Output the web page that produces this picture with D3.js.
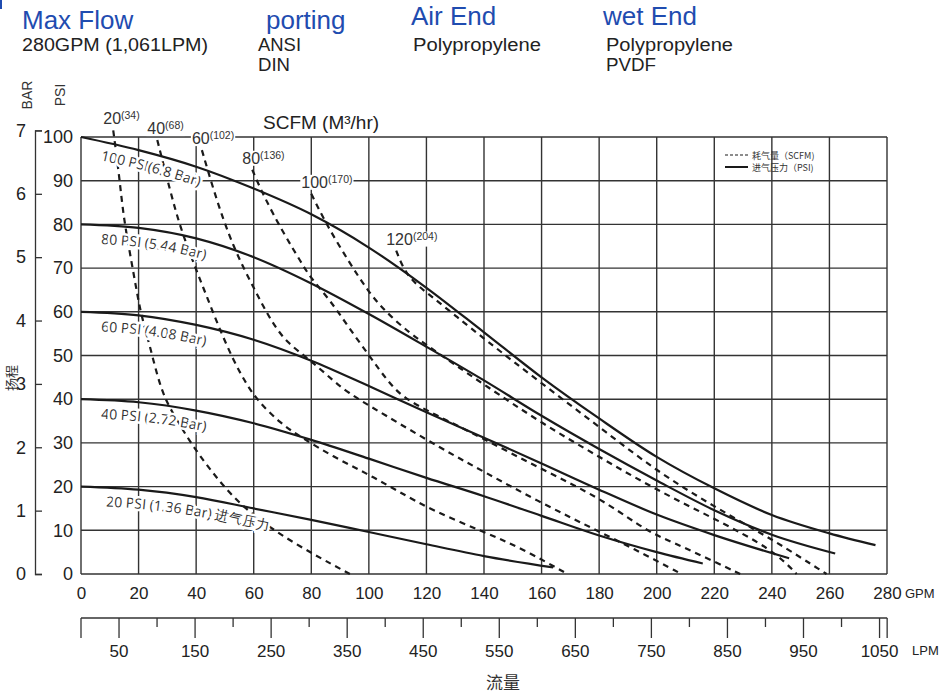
<!DOCTYPE html>
<html>
<head>
<meta charset="utf-8">
<script src="https://cdn.jsdelivr.net/npm/d3@7"></script>
<style>
body { margin: 0; background: #fff; }
svg { display: block; font-family: "Liberation Sans", Arial, sans-serif; }
</style>
</head>
<body>
<div id="chart"></div>
<script>
//Tick values for the axes
var gpmTicks = d3.range(0, 281, 20);
var psiTicks = d3.range(0, 101, 10);
var barTicks = d3.range(0, 8);
var lpmMajor = d3.range(50, 1051, 100);
var lpmMinor = d3.range(100, 1001, 100);

//Header texts
var headerTitles = ["Max Flow", "porting", "Air End", "wet End"];
var headerLines = [["280GPM (1,061LPM)"], ["ANSI", "DIN"], ["Polypropylene"], ["Polypropylene", "PVDF"]];

//Inlet pressure curves, [GPM, PSI]
var psi100 = [[0,100],[20,97],[40,93.2],[60,88.2],[80,82.3],[100,74.7],[120,65.5],[140,55.3],[160,45],[180,35.6],[200,26.8],[220,19.6],[240,13.5],[260,9.3],[276,6.6]];
var psi80 = [[0,80],[20,79.2],[40,76.8],[60,72.5],[80,66.5],[100,59.5],[120,52],[140,44.3],[160,36.2],[180,28.6],[200,21.4],[220,14.6],[240,9],[262,4.7]];
var psi60 = [[0,60],[20,59.2],[40,57],[60,53.6],[80,48.8],[100,43],[120,37],[140,31.2],[160,25.3],[180,19.3],[200,13.6],[220,8.9],[246,3.6]];
var psi40 = [[0,40],[20,39.3],[40,37.4],[60,34.5],[80,30.7],[100,26.4],[120,22],[140,17.8],[160,13.3],[180,8.8],[200,5],[216,2.4]];
var psi20 = [[0,20],[20,19.3],[40,17.6],[60,15],[80,12.4],[100,9.6],[120,6.8],[140,4.1],[164,1.5]];
var psiSeries = [psi100, psi80, psi60, psi40, psi20];
var psiNames = ["100 PSI(6.8 Bar)", "80 PSI (5.44 Bar)", "60 PSI (4.08 Bar)", "40 PSI (2.72 Bar)", "20 PSI (1.36 Bar) 进气压力"];

//Air consumption curves, [GPM, PSI]
var scfm20 = [[11.2,101.5],[13.3,91],[14.7,82],[17,73.4],[19.9,62.7],[21.1,58.9],[24,52],[27.4,43],[30.7,38],[38.5,29.5],[47,22],[56.4,15],[72.6,7.4],[93.4,0]];
var scfm40 = [[26.5,99.3],[30.9,87.9],[34.4,79.4],[39.6,70.3],[43.7,63.5],[48.3,55.8],[52.9,49],[56.8,44.2],[61.1,39.8],[69.2,34.5],[76.2,31.4],[87.7,26.8],[99.3,23],[110,19],[122.8,14.3],[139.7,9.7],[153,5.9],[169,0]];
var scfm60 = [[42,97],[46,88],[49.5,81],[53,75],[56.5,70],[60,65.5],[63.5,61],[67,57],[71.5,53],[78.5,49.5],[85.5,45.5],[92.5,41.5],[104,37],[126,28.4],[140,23.4],[160,16.2],[180,9.7],[194,5.1],[208.6,0]];
var scfm80 = [[59.5,92.5],[63.3,86.7],[70.3,78],[76.7,71.1],[79.5,68],[86.5,62.7],[92.8,56.6],[100.4,49.7],[106.2,44.4],[112,40.2],[122.7,36.6],[139.7,31],[160,24],[180,17.5],[194,11],[201,8.5],[211.5,5.5],[229,0]];
var scfm100 = [[80,87],[85.3,79.9],[93.4,71.1],[99.8,64.6],[106.2,59.7],[114.3,55.1],[120.1,52.4],[130.5,47.6],[139.7,43.5],[160,34.5],[180,26.8],[200,19.2],[220,12.7],[240.5,5.5],[248.6,0]];
var scfm120 = [[109.5,74],[113.1,68],[121.2,63.8],[130.5,58.9],[139.7,54],[160,43.6],[180,33.7],[200,23.5],[220,15.4],[240.5,7.8],[259,0]];
var scfmSeries = [scfm20, scfm40, scfm60, scfm80, scfm100, scfm120];
var scfmNames = ["20", "40", "60", "80", "100", "120"];
var scfmM3 = ["(34)", "(68)", "(102)", "(136)", "(170)", "(204)"];

var legendNames = ["耗气量（SCFM)", "进气压力（PSI)"];

var width = 948, height = 694;
var lineColor = "#1a1a1a", gridColor = "#333", textColor = "#222", blue = "#1f4cb0";

var svg = d3.select("#chart").append("svg")
	.attr("width", width)
	.attr("height", height);

//Scales
var x = d3.scaleLinear().domain([0, 280]).range([81, 887]);
var y = d3.scaleLinear().domain([0, 100]).range([574, 137]);
var yBar = d3.scaleLinear().domain([0, 7]).range([y(0), y(7 * 14.5)]);
var xLpm = d3.scaleLinear().domain([0, 280 * 3.785]).range([81, 887]);

//Small blue mark in the corner
svg.append("rect").attr("x", 0).attr("y", 0).attr("width", 2).attr("height", 9).attr("fill", blue);

//Header
var subWidths = [[186], [43, 32], [128], [127, 50]];
headerTitles.forEach(function(t, i) {
	svg.append("text")
		.attr("x", [22, 266, 411, 603][i]).attr("y", [29, 29, 25, 25][i])
		.style("font-size", "26px")
		.style("fill", blue)
		.text(t);
	headerLines[i].forEach(function(s, j) {
		svg.append("text")
			.attr("x", [22, 258, 413, 606][i]).attr("y", 51 + j * 20)
			.attr("textLength", subWidths[i][j])
			.attr("lengthAdjust", "spacingAndGlyphs")
			.style("font-size", "18px")
			.style("fill", textColor)
			.text(s);
	});
});

//Grid
var grid = svg.append("g").attr("stroke", gridColor).attr("stroke-width", 1.4);
grid.selectAll(".vgrid").data(gpmTicks).enter().append("line")
	.attr("x1", function(d){ return x(d); }).attr("x2", function(d){ return x(d); })
	.attr("y1", y(0)).attr("y2", y(100));
grid.selectAll(".hgrid").data(psiTicks).enter().append("line")
	.attr("x1", x(0)).attr("x2", x(280))
	.attr("y1", function(d){ return y(d); }).attr("y2", function(d){ return y(d); });

//Curves
var solidLine = d3.line()
	.x(function(d){ return x(d[0]); })
	.y(function(d){ return y(d[1]); })
	.curve(d3.curveMonotoneX);
var dashLine = d3.line()
	.x(function(d){ return x(d[0]); })
	.y(function(d){ return y(d[1]); })
	.curve(d3.curveBasis);

svg.selectAll(".scfmLine").data(scfmSeries).enter().append("path")
	.attr("class", "scfmLine")
	.attr("d", dashLine)
	.attr("fill", "none")
	.attr("stroke", lineColor)
	.attr("stroke-width", 2.2)
	.attr("stroke-dasharray", "6,5");

svg.selectAll(".psiLine").data(psiSeries).enter().append("path")
	.attr("class", "psiLine")
	.attr("d", solidLine)
	.attr("fill", "none")
	.attr("stroke", lineColor)
	.attr("stroke-width", 2.2);

//Curve labels follow a copy of the curve shifted down
var labelLine = d3.line()
	.x(function(d){ return x(d[0]); })
	.y(function(d){ return y(d[1]) + 19; })
	.curve(d3.curveMonotoneX);
var defs = svg.append("defs");
psiSeries.forEach(function(s, i) {
	defs.append("path").attr("id", "psiLab" + i).attr("d", labelLine(s));
	svg.append("text")
		.style("font-family", "'Open Sans', 'Noto Sans', sans-serif")
		.style("font-size", "14px")
		.style("fill", "#333")
		.style("stroke", "#fff")
		.style("stroke-width", 5)
		.style("paint-order", "stroke")
		.append("textPath")
		.attr("href", "#psiLab" + i)
		.attr("startOffset", i == 4 ? 25 : 20)
		.text(psiNames[i]);
});

//SCFM labels with white background
scfmSeries.forEach(function(s, i) {
	var g = svg.append("g");
	var t = g.append("text")
		.attr("x", x(s[0][0]) - 10)
		.attr("y", y(s[0][1]) - 6)
		.style("fill", "#333");
	t.append("tspan").style("font-size", "16px").text(scfmNames[i]);
	t.append("tspan").style("font-size", "10.5px").attr("dy", -5).text(scfmM3[i]);
	var b = t.node().getBBox();
	g.insert("rect", "text")
		.attr("x", b.x - 1).attr("y", b.y + 2)
		.attr("width", b.width + 2).attr("height", b.height - 3)
		.attr("fill", "#fff");
});

svg.append("text")
	.attr("x", 263).attr("y", 129)
	.style("font-size", "19px")
	.style("fill", textColor)
	.text("SCFM (M³/hr)");

//Legend
legendNames.forEach(function(n, i) {
	svg.append("line")
		.attr("x1", 725).attr("x2", 748)
		.attr("y1", 155 + i * 12).attr("y2", 155 + i * 12)
		.attr("stroke", lineColor)
		.attr("stroke-width", i == 0 ? 1.2 : 2)
		.attr("stroke-dasharray", i == 0 ? "3,2" : null);
	svg.append("text")
		.attr("x", 752).attr("y", 158.5 + i * 12)
		.style("font-family", "'Noto Sans CJK SC', sans-serif")
		.style("font-size", "9px")
		.style("fill", "#333")
		.text(n);
});

//Left PSI axis
var psiAxis = svg.append("g")
	.attr("transform", "translate(" + x(0) + ",0)")
	.call(d3.axisLeft(y).tickValues(psiTicks).tickSize(0).tickPadding(8));
psiAxis.select(".domain").remove();
psiAxis.selectAll("text").style("font-size", "18px").style("fill", textColor).style("font-family", "'Liberation Sans', Arial, sans-serif");

//Left BAR axis
var barAxis = svg.append("g")
	.attr("transform", "translate(35,0)")
	.call(d3.axisLeft(yBar).tickValues(barTicks).tickFormat(d3.format("d"))
		.tickSizeInner(-7).tickSizeOuter(-7).tickPadding(9));
barAxis.selectAll("path, line").attr("stroke", gridColor).attr("stroke-width", 1.3);
barAxis.selectAll("text").style("font-size", "18px").style("fill", textColor).style("font-family", "'Liberation Sans', Arial, sans-serif");

svg.append("text").attr("transform", "translate(32,95) rotate(-90)")
	.style("text-anchor", "middle").style("font-size", "14px").style("fill", "#333").text("BAR");
svg.append("text").attr("transform", "translate(65,95) rotate(-90)")
	.style("text-anchor", "middle").style("font-size", "14px").style("fill", "#333").text("PSI");
svg.append("text").attr("transform", "translate(16,378) rotate(-90)")
	.style("text-anchor", "middle").style("font-size", "13px").style("fill", "#333")
	.style("font-family", "'Noto Sans CJK SC', sans-serif").text("扬程");

//Bottom GPM axis
var gpmAxis = svg.append("g")
	.attr("transform", "translate(0," + y(0) + ")")
	.call(d3.axisBottom(x).tickValues(gpmTicks).tickSize(0).tickPadding(13));
gpmAxis.select(".domain").remove();
gpmAxis.selectAll("text").style("font-size", "17px").style("fill", textColor).style("font-family", "'Liberation Sans', Arial, sans-serif");
svg.append("text").attr("x", 905).attr("y", 598)
	.style("font-size", "13px").style("fill", textColor).text("GPM");

//LPM axis
var lpmY = 618;
var lpm = svg.append("g").attr("stroke", gridColor).attr("stroke-width", 1.3);
lpm.append("line").attr("x1", xLpm(0)).attr("x2", xLpm(1060)).attr("y1", lpmY).attr("y2", lpmY);
lpm.selectAll(".lpmEnd").data([0, 1060]).enter().append("line")
	.attr("x1", function(d){ return xLpm(d); }).attr("x2", function(d){ return xLpm(d); })
	.attr("y1", lpmY).attr("y2", lpmY + 20);
lpm.selectAll(".lpmMajor").data(lpmMajor).enter().append("line")
	.attr("x1", function(d){ return xLpm(d); }).attr("x2", function(d){ return xLpm(d); })
	.attr("y1", lpmY).attr("y2", lpmY + 20);
lpm.selectAll(".lpmMinor").data(lpmMinor).enter().append("line")
	.attr("x1", function(d){ return xLpm(d); }).attr("x2", function(d){ return xLpm(d); })
	.attr("y1", lpmY).attr("y2", lpmY + 9);
svg.selectAll(".lpmLabel").data(lpmMajor).enter().append("text")
	.attr("x", function(d){ return xLpm(d); })
	.attr("y", 657)
	.style("text-anchor", "middle")
	.style("font-size", "17px")
	.style("fill", textColor)
	.text(function(d){ return d; });
svg.append("text").attr("x", 912).attr("y", 655)
	.style("font-size", "13px").style("fill", textColor).text("LPM");
svg.append("text").attr("x", 503).attr("y", 689)
	.style("text-anchor", "middle").style("font-size", "17px").style("fill", "#333")
	.style("font-family", "'Noto Sans CJK SC', sans-serif").text("流量");
</script>
</body>
</html>
